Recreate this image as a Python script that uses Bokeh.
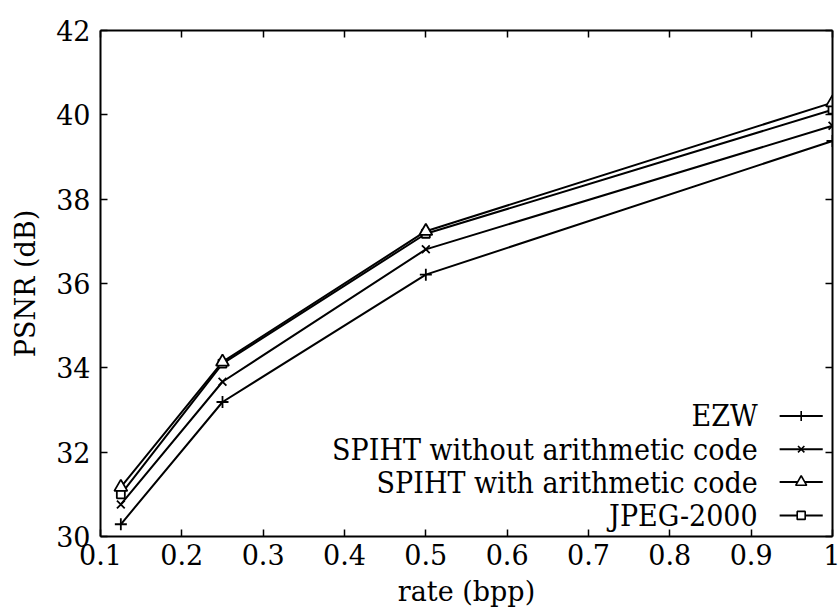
from bokeh.plotting import figure
from bokeh.models import Range1d, LinearAxis, FixedTicker
from bokeh.core.properties import value
from bokeh.embed import file_html
from bokeh.resources import INLINE

rates = [0.125, 0.25, 0.5, 1.0]
ezw = [30.29, 33.19, 36.21, 39.38]
spiht_no_ac = [30.76, 33.67, 36.81, 39.74]
spiht_ac = [31.17, 34.14, 37.24, 40.29]
jpeg2000 = [31.00, 34.10, 37.18, 40.12]

series_names = ["EZW", "SPIHT without arithmetic code", "SPIHT with arithmetic code", "JPEG-2000"]
series_values = [ezw, spiht_no_ac, spiht_ac, jpeg2000]
series_markers = ["cross", "x", "triangle", "square"]
marker_sizes = {"cross": 12, "x": 11, "triangle": 13, "square": 8}

x_ticks = [0.1, 0.2, 0.3, 0.4, 0.5, 0.6, 0.7, 0.8, 0.9, 1.0]
x_tick_labels = ["0.1", "0.2", "0.3", "0.4", "0.5", "0.6", "0.7", "0.8", "0.9", "1"]
y_ticks = [30, 32, 34, 36, 38, 40, 42]

FONT = "DejaVu Serif"
LEG_FONT = "DejaVu Serif Condensed"
FS = "27px"
LEG_FS = "30px"

p = figure(width=840, height=610, output_backend="svg", toolbar_location=None,
           x_range=Range1d(0.1, 1.0), y_range=Range1d(30, 42),
           min_border_left=100, min_border_right=8, min_border_top=30, min_border_bottom=74)
p.background_fill_color = "white"
p.border_fill_color = "white"
p.outline_line_color = None
p.grid.visible = False

def style_axis(ax, labels=True):
    ax.axis_line_color = "black"
    ax.axis_line_width = 2
    ax.major_tick_line_color = "black"
    ax.major_tick_line_width = 1.5
    ax.major_tick_in = 7
    ax.major_tick_out = 0
    ax.minor_tick_line_color = None
    ax.major_label_text_font = FONT
    ax.major_label_text_font_size = FS
    ax.major_label_text_color = "black"
    ax.axis_label_text_font = FONT
    ax.axis_label_text_font_size = FS
    ax.axis_label_text_font_style = "normal"
    ax.axis_label_text_color = "black"
    if not labels:
        ax.major_label_text_font_size = "0px"
        ax.major_label_text_alpha = 0

p.xaxis.ticker = FixedTicker(ticks=x_ticks)
p.xaxis.major_label_overrides = {t: l for t, l in zip(x_ticks, x_tick_labels)}
p.yaxis.ticker = FixedTicker(ticks=y_ticks)
p.xaxis.axis_label = "rate (bpp)"
p.yaxis.axis_label = "PSNR (dB)"
style_axis(p.xaxis[0])
style_axis(p.yaxis[0])
p.xaxis.major_label_standoff = 7
p.yaxis.major_label_standoff = 10
p.xaxis.axis_label_standoff = 8
p.yaxis.axis_label_standoff = 12

top = LinearAxis(ticker=FixedTicker(ticks=x_ticks))
right = LinearAxis(ticker=FixedTicker(ticks=y_ticks))
style_axis(top, labels=False)
style_axis(right, labels=False)
p.add_layout(top, "above")
p.add_layout(right, "right")

# draw JPEG-2000 first so the SPIHT triangles sit on top, as in the original
draw_order = [3, 0, 1, 2]
for i in draw_order:
    vals, m = series_values[i], series_markers[i]
    p.line(rates, vals, line_color="black", line_width=2)
for i in draw_order:
    vals, m = series_values[i], series_markers[i]
    p.scatter(rates, vals, marker=m, size=marker_sizes[m], line_color="black", line_width=1.8,
              fill_color="white" if m in ("triangle", "square") else None)

# legend (text right-aligned, sample on the right)
leg_text_x = 0.908
leg_line_x0, leg_line_x1 = 0.935, 0.988
leg_y = [32.86, 32.07, 31.29, 30.50]
for name, m, yy in zip(series_names, series_markers, leg_y):
    p.text([leg_text_x], [yy], text=[name], text_align="right", text_baseline="middle",
           text_font=value(LEG_FONT), text_font_size=LEG_FS, text_color="black")
    p.segment([leg_line_x0], [yy], [leg_line_x1], [yy], line_color="black", line_width=2)
    p.scatter([(leg_line_x0 + leg_line_x1) / 2], [yy], marker=m,
              size=max(marker_sizes[m] - 2, 8), line_color="black",
              line_width=1.6, fill_color="white" if m in ("triangle", "square") else None)

open("out.html", "w").write(file_html(p, INLINE))
